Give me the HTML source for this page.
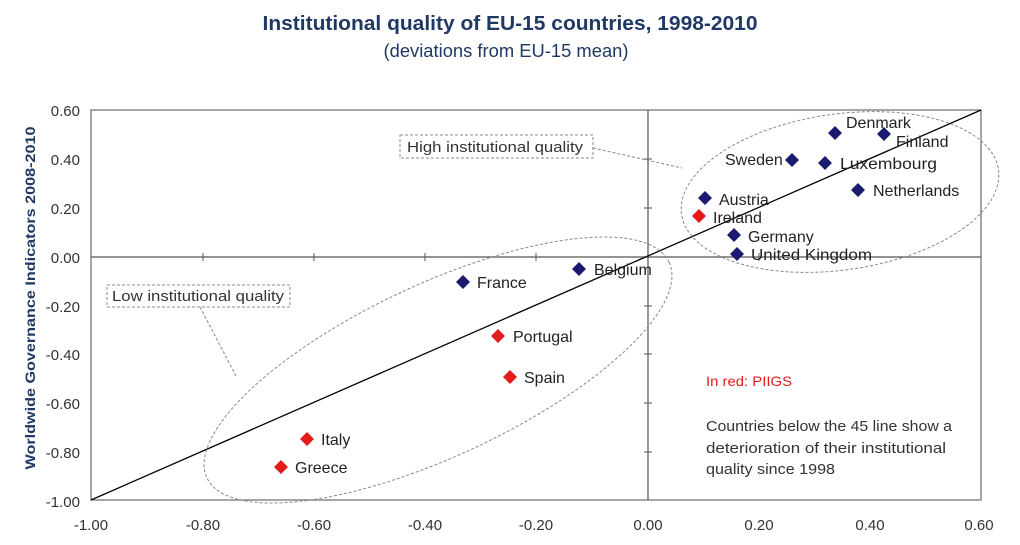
<!DOCTYPE html>
<html><head><meta charset="utf-8"><style>
body{margin:0;background:#fff;width:1020px;height:540px;overflow:hidden;font-family:"Liberation Sans",sans-serif}
</style></head><body>
<svg width="1020" height="540" xmlns="http://www.w3.org/2000/svg" font-family="Liberation Sans, sans-serif">
<text x="510" y="30" text-anchor="middle" font-size="20.5" font-weight="bold" fill="#1f3864" textLength="495" lengthAdjust="spacingAndGlyphs">Institutional quality of EU-15 countries, 1998-2010</text>
<text x="506" y="57" text-anchor="middle" font-size="18" fill="#1f3864" textLength="245" lengthAdjust="spacingAndGlyphs">(deviations from EU-15 mean)</text>
<rect x="91" y="110" width="890" height="390" fill="none" stroke="#777" stroke-width="1.3"/>
<line x1="91" y1="257" x2="981" y2="257" stroke="#555" stroke-width="1.2"/>
<line x1="648" y1="110" x2="648" y2="500" stroke="#555" stroke-width="1.2"/>
<g stroke="#555" stroke-width="1">
<line x1="203" y1="253" x2="203" y2="261"/><line x1="314" y1="253" x2="314" y2="261"/><line x1="425" y1="253" x2="425" y2="261"/><line x1="536" y1="253" x2="536" y2="261"/><line x1="759" y1="253" x2="759" y2="261"/><line x1="870" y1="253" x2="870" y2="261"/>
<line x1="644" y1="159" x2="652" y2="159"/><line x1="644" y1="208" x2="652" y2="208"/><line x1="644" y1="306" x2="652" y2="306"/><line x1="644" y1="354" x2="652" y2="354"/><line x1="644" y1="403" x2="652" y2="403"/><line x1="644" y1="452" x2="652" y2="452"/>
</g>
<g font-size="15" fill="#333" text-anchor="end">
<text x="80" y="116">0.60</text><text x="80" y="165">0.40</text><text x="80" y="214">0.20</text><text x="80" y="263">0.00</text><text x="80" y="312">-0.20</text><text x="80" y="360">-0.40</text><text x="80" y="409">-0.60</text><text x="80" y="458">-0.80</text><text x="80" y="507">-1.00</text>
</g>
<g font-size="15" fill="#333" text-anchor="middle">
<text x="91" y="530">-1.00</text><text x="203" y="530">-0.80</text><text x="314" y="530">-0.60</text><text x="425" y="530">-0.40</text><text x="536" y="530">-0.20</text><text x="648" y="530">0.00</text><text x="759" y="530">0.20</text><text x="870" y="530">0.40</text><text x="979" y="530">0.60</text>
</g>
<text transform="translate(35,298) rotate(-90)" text-anchor="middle" font-size="14" font-weight="bold" fill="#1f3864" textLength="343" lengthAdjust="spacingAndGlyphs">Worldwide Governance Indicators 2008-2010</text>
<line x1="91" y1="500" x2="981" y2="110" stroke="#000" stroke-width="1.3"/>
<ellipse cx="840" cy="192" rx="160" ry="78" transform="rotate(-8 840 192)" fill="none" stroke="#888" stroke-dasharray="3,2"/>
<ellipse cx="438" cy="370" rx="255" ry="86" transform="rotate(-25 438 370)" fill="none" stroke="#888" stroke-dasharray="3,2"/>
<rect x="400" y="135" width="193" height="23" fill="#fff" stroke="#888" stroke-dasharray="3,2"/>
<text x="407" y="152" font-size="14.5" fill="#333" textLength="176" lengthAdjust="spacingAndGlyphs">High institutional quality</text>
<line x1="593" y1="148" x2="682" y2="168" stroke="#888" stroke-dasharray="3,2"/>
<rect x="107" y="285" width="183" height="22" fill="#fff" stroke="#888" stroke-dasharray="3,2"/>
<text x="112" y="301" font-size="14.5" fill="#333" textLength="172" lengthAdjust="spacingAndGlyphs">Low institutional quality</text>
<line x1="200" y1="307" x2="236" y2="376" stroke="#888" stroke-dasharray="3,2"/>
<g font-size="16" fill="#222">
<path d="M835 126l7 7-7 7-7-7z" fill="#1a1a6e"/><text x="846" y="128">Denmark</text>
<path d="M884 127l7 7-7 7-7-7z" fill="#1a1a6e"/><text x="896" y="147">Finland</text>
<path d="M792 153l7 7-7 7-7-7z" fill="#1a1a6e"/><text x="725" y="165">Sweden</text>
<path d="M825 156l7 7-7 7-7-7z" fill="#1a1a6e"/><text x="840" y="169" textLength="97" lengthAdjust="spacingAndGlyphs">Luxembourg</text>
<path d="M858 183l7 7-7 7-7-7z" fill="#1a1a6e"/><text x="873" y="196">Netherlands</text>
<path d="M705 191l7 7-7 7-7-7z" fill="#1a1a6e"/><text x="719" y="205">Austria</text>
<path d="M699 209l7 7-7 7-7-7z" fill="#e41b1b"/><text x="713" y="223">Ireland</text>
<path d="M734 228l7 7-7 7-7-7z" fill="#1a1a6e"/><text x="748" y="242">Germany</text>
<path d="M737 247l7 7-7 7-7-7z" fill="#1a1a6e"/><text x="751" y="260" textLength="121" lengthAdjust="spacingAndGlyphs">United Kingdom</text>
<path d="M579 262l7 7-7 7-7-7z" fill="#1a1a6e"/><text x="594" y="275">Belgium</text>
<path d="M463 275l7 7-7 7-7-7z" fill="#1a1a6e"/><text x="477" y="288">France</text>
<path d="M498 329l7 7-7 7-7-7z" fill="#e41b1b"/><text x="513" y="342">Portugal</text>
<path d="M510 370l7 7-7 7-7-7z" fill="#e41b1b"/><text x="524" y="383">Spain</text>
<path d="M307 432l7 7-7 7-7-7z" fill="#e41b1b"/><text x="321" y="445">Italy</text>
<path d="M281 460l7 7-7 7-7-7z" fill="#e41b1b"/><text x="295" y="473">Greece</text>
</g>
<text x="706" y="386" font-size="14" fill="#e41b1b" textLength="86" lengthAdjust="spacingAndGlyphs">In red: PIIGS</text>
<g font-size="15" fill="#333">
<text x="706" y="431" textLength="246" lengthAdjust="spacingAndGlyphs">Countries below the 45 line show a</text>
<text x="706" y="453" textLength="240" lengthAdjust="spacingAndGlyphs">deterioration of their institutional</text>
<text x="706" y="474" textLength="129" lengthAdjust="spacingAndGlyphs">quality since 1998</text>
</g>
</svg>
</body></html>
